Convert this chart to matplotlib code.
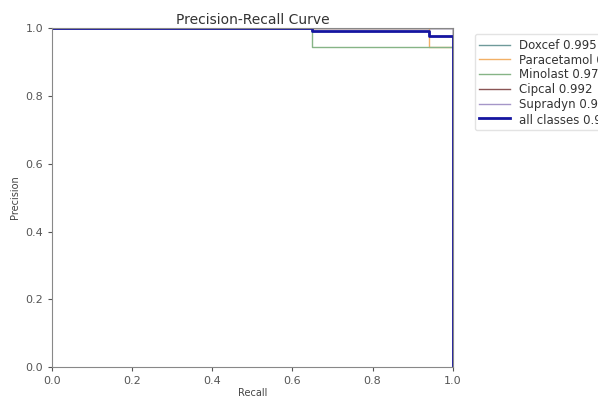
import numpy as np
import matplotlib
matplotlib.use("Agg")
import matplotlib.pyplot as plt

# classes and AP values (last digits cut off in the original legend)
names = ["Doxcef", "Paracetamol", "Minolast", "Cipcal", "Supradyn"]
ap    = [0.995, 0.971, 0.976, 0.992, 0.995]
ap_all = 0.986

# recall / precision steps for each class
rec_doxcef  = [0.0, 1.0, 1.0]
prec_doxcef = [1.0, 1.0, 0.0]

rec_para  = [0.0, 0.94, 0.94, 1.0, 1.0]
prec_para = [1.0, 1.0, 0.945, 0.945, 0.0]

rec_mino  = [0.0, 0.65, 0.65, 1.0, 1.0]
prec_mino = [1.0, 1.0, 0.945, 0.945, 0.0]

rec_cipcal  = [0.0, 1.0, 1.0]
prec_cipcal = [1.0, 1.0, 0.0]

rec_supra  = [0.0, 1.0, 1.0]
prec_supra = [1.0, 1.0, 0.0]

# mean over classes
rec_all  = [0.0, 0.65, 0.65, 0.94, 0.94, 1.0, 1.0]
prec_all = [1.0, 1.0, 0.992, 0.992, 0.978, 0.978, 0.0]

curves = [(rec_doxcef, prec_doxcef), (rec_para, prec_para), (rec_mino, prec_mino),
          (rec_cipcal, prec_cipcal), (rec_supra, prec_supra)]
colors = ["#6f9a9a", "#f2b066", "#86b486", "#8a5555", "#a596c8"]

fig = plt.figure(figsize=(5.98, 3.96), dpi=100)
ax = fig.add_axes([0.087, 0.073, 0.67, 0.856])

for (r, p), n, a, c in zip(curves, names, ap, colors):
    ax.plot(r, p, linewidth=1, color=c, label=f"{n} {a:.3f}")
ax.plot(rec_all, prec_all, linewidth=2, color="#1515a0", label=f"all classes {ap_all:.3f} mAP@0.5")

for s in ax.spines.values():
    s.set_color("#888888")
ax.tick_params(labelsize=8, colors="#555555", length=3)
ax.set_xlim(0, 1)
ax.set_ylim(0, 1)
ax.set_xlabel("Recall", fontsize=7, color="#444444", labelpad=1)
ax.set_ylabel("Precision", fontsize=7, color="#444444")
ax.set_title("Precision-Recall Curve", fontsize=10, color="#333333", pad=3)
leg = ax.legend(bbox_to_anchor=(1.04, 1), loc="upper left", fontsize=8.5,
                handlelength=2.6, labelspacing=0.15, labelcolor="#333333")
leg.get_frame().set_edgecolor("#dddddd")

fig.savefig("out.png", dpi=100)
